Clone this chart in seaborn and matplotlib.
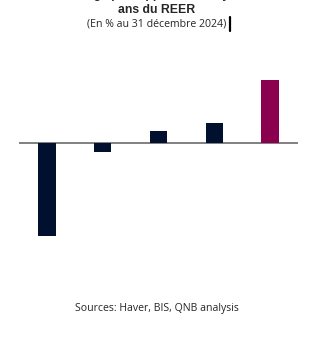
import matplotlib
matplotlib.use("Agg")
import matplotlib.pyplot as plt
from matplotlib.lines import Line2D
import seaborn as sns
import pandas as pd

# Deviation of each currency's REER from its 10-year average (%, end-2024)
currencies = ["JPY", "EUR", "GBP", "CNY", "USD"]
deviation = [-23.3, -2.4, 2.9, 4.9, 15.8]
bar_colors = ["#01102F", "#01102F", "#01102F", "#01102F", "#8A004E"]

title_line1 = "Écart de change par rapport à la moyenne sur 10"
title_line2 = "ans du REER"
subtitle = "(En % au 31 décembre 2024)"
source = "Sources: Haver, BIS, QNB analysis"

df = pd.DataFrame({"currency": currencies, "deviation": deviation})

sns.set_theme(style="white")
W, H = 330, 339
fig = plt.figure(figsize=(W / 100, H / 100), dpi=100)

# axes placed in pixel terms: x 19..298, y 60..270 (from top)
left, right, top, bottom = 19, 298, 60, 270
ax = fig.add_axes([left / W, 1 - bottom / H, (right - left) / W, (bottom - top) / H])

sns.barplot(data=df, x="currency", y="deviation", hue="currency",
            palette=bar_colors, legend=False, width=0.31, ax=ax,
            saturation=1, linewidth=0)
ax.axhline(0, color="#6b6b6b", lw=1.2, zorder=0.5)
ax.set_xlim(-0.5, 4.5)
ax.set_ylim(-31.8, 20.7)
ax.set_axis_off()

fig.text(0.47, 1 - (-6.5) / H, title_line1, ha="center", va="center",
         fontsize=8.8, fontweight="bold", family="Liberation Sans")
fig.text(0.473, 1 - 10 / H, title_line2, ha="center", va="center",
         fontsize=8.8, fontweight="bold", family="Liberation Sans")
fig.text(0.475, 1 - 24 / H, subtitle, ha="center", va="center",
         fontsize=7.6, family="Open Sans")
fig.add_artist(Line2D([230 / W, 230 / W], [1 - 17 / H, 1 - 31 / H],
                      color="black", lw=1.6, transform=fig.transFigure))
fig.text(0.476, 1 - 309 / H, source, ha="center", va="center",
         fontsize=7.6, family="Open Sans")

fig.savefig("out.png", dpi=100)
